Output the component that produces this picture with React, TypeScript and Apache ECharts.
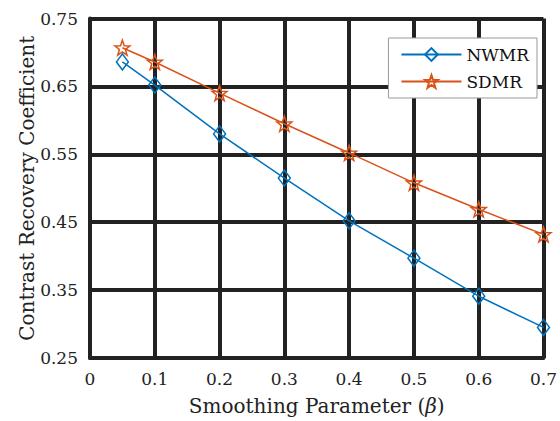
import React, { useEffect, useRef } from "react";
import * as echarts from "echarts";

const betaValues = [0.05, 0.1, 0.2, 0.3, 0.4, 0.5, 0.6, 0.7];
const nwmrValues = [0.686, 0.652, 0.58, 0.515, 0.452, 0.397, 0.341, 0.295];
const sdmrValues = [0.707, 0.686, 0.64, 0.595, 0.552, 0.508, 0.469, 0.432];
const seriesNames = ["NWMR", "SDMR"];
const xTitle = "Smoothing Parameter ({i|β})";
const yTitle = "Contrast Recovery Coefficient";

const STAR =
  "path://M0,-10L2.35,-3.24L9.51,-3.09L3.8,1.24L5.88,8.09L0,4L-5.88,8.09L-3.8,1.24L-9.51,-3.09L-2.35,-3.24Z";

const FONT = "DejaVu Serif";

export default function App() {
  const ref = useRef<HTMLDivElement>(null);
  useEffect(() => {
    if (!ref.current) return;
    const chart = echarts.init(ref.current, undefined, { renderer: "svg" });
    const gridLine = { show: true, lineStyle: { color: "#222", width: 4 } };
    chart.setOption({
      animation: false,
      backgroundColor: "#fff",
      textStyle: { fontFamily: FONT },
      grid: { left: 90, right: 14, top: 18.5, bottom: 63, show: false },
      legend: {
        right: 23,
        top: 38,
        orient: "vertical",
        backgroundColor: "#fff",
        borderColor: "#999",
        borderWidth: 1,
        borderRadius: 0,
        padding: [8, 8, 8, 12],
        itemWidth: 60,
        itemHeight: 16,
        itemGap: 10,
        textStyle: { fontFamily: FONT, fontSize: 17, color: "#111" },
        data: seriesNames,
      },
      xAxis: {
        type: "value",
        min: 0,
        max: 0.7,
        interval: 0.1,
        name: xTitle,
        nameLocation: "middle",
        nameGap: 38,
        nameMoveOverlap: false,
        nameTextStyle: {
          fontFamily: FONT,
          fontSize: 20,
          color: "#222",
          rich: { i: { fontFamily: FONT, fontSize: 20, fontStyle: "italic", color: "#222" } },
        },
        axisLine: { show: true, lineStyle: { color: "#222", width: 4 } },
        axisTick: { show: false },
        axisLabel: {
          margin: 12,
          fontFamily: FONT,
          fontSize: 17,
          color: "#222",
          formatter: (v: number) => (v === 0 ? "0" : v.toFixed(1)),
        },
        splitLine: gridLine,
      },
      yAxis: {
        type: "value",
        min: 0.25,
        max: 0.75,
        interval: 0.1,
        name: yTitle,
        nameLocation: "middle",
        nameGap: 53,
        nameMoveOverlap: false,
        nameTextStyle: { fontFamily: FONT, fontSize: 20, color: "#222" },
        axisLine: { show: true, lineStyle: { color: "#222", width: 4 } },
        axisTick: { show: false },
        axisLabel: {
          margin: 12,
          fontFamily: FONT,
          fontSize: 17,
          color: "#222",
          formatter: (v: number) => v.toFixed(2),
        },
        splitLine: gridLine,
      },
      series: [
        {
          name: seriesNames[0],
          type: "line",
          data: betaValues.map((x, i) => [x, nwmrValues[i]]),
          symbol: "diamond",
          symbolSize: [12, 16],
          lineStyle: { color: "#0072BD", width: 1.5 },
          itemStyle: { color: "rgba(255,255,255,0)", borderColor: "#0072BD", borderWidth: 1.5 },
          z: 3,
        },
        {
          name: seriesNames[1],
          type: "line",
          data: betaValues.map((x, i) => [x, sdmrValues[i]]),
          symbol: STAR,
          symbolSize: 15,
          lineStyle: { color: "#D95319", width: 1.5 },
          itemStyle: { color: "rgba(255,255,255,0)", borderColor: "#D95319", borderWidth: 1.5 },
          z: 3,
        },
      ],
    });
    return () => chart.dispose();
  }, []);
  return <div ref={ref} style={{ width: 560, height: 421, position: "absolute", left: 0, top: 0 }} />;
}
